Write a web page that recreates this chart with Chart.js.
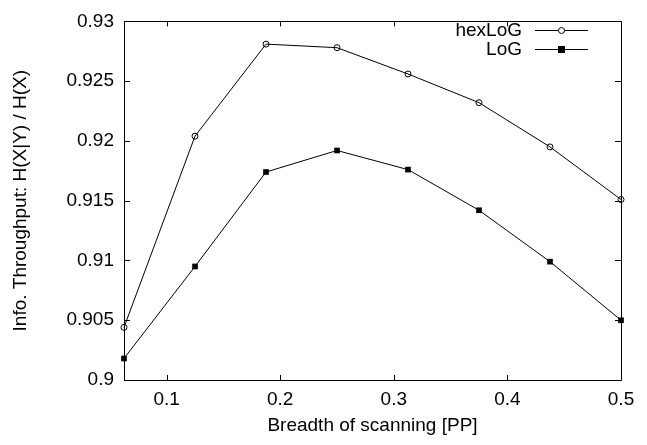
<!DOCTYPE html>
<html>
<head>
<meta charset="utf-8">
<script src="https://cdn.jsdelivr.net/npm/chart.js@4/dist/chart.umd.min.js"></script>
<style>
html,body{margin:0;padding:0;background:#fff;}
#wrap{width:647px;height:445px;position:relative;}
</style>
</head>
<body>
<div id="wrap"><canvas id="c" width="647" height="445"></canvas></div>
<script>
const xValues = [0.0625, 0.125, 0.1875, 0.25, 0.3125, 0.375, 0.4375, 0.5];
const hexLoG = [0.9044, 0.9204, 0.9281, 0.9278, 0.9256, 0.9232, 0.9195, 0.9151];
const LoG = [0.9018, 0.9095, 0.9174, 0.9192, 0.9176, 0.9142, 0.9099, 0.9050];
const xTicks = [0.1, 0.2, 0.3, 0.4, 0.5];
const yTicks = [0.9, 0.905, 0.91, 0.915, 0.92, 0.925, 0.93];
const seriesNames = ['hexLoG', 'LoG'];
const xTitle = 'Breadth of scanning [PP]';
const yTitle = 'Info. Throughput: H(X|Y) / H(X)';

const FONT = 'Liberation Sans, Arial, sans-serif';
const FS = 19;

const toPts = (ys) => xValues.map((x, i) => ({x: x, y: ys[i]}));

const frame = {
  id: 'frame',
  afterDraw(chart) {
    const {ctx, chartArea: a, scales} = chart;
    ctx.save();
    ctx.strokeStyle = '#000';
    ctx.lineWidth = 1;
    ctx.beginPath();
    ctx.rect(Math.round(a.left) + 0.5, Math.round(a.top) + 0.5, Math.round(a.right - a.left), Math.round(a.bottom - a.top));
    ctx.stroke();
    ctx.beginPath();
    xTicks.forEach(v => {
      const px = Math.round(scales.x.getPixelForValue(v)) + 0.5;
      ctx.moveTo(px, a.bottom); ctx.lineTo(px, a.bottom - 5);
      ctx.moveTo(px, a.top); ctx.lineTo(px, a.top + 5);
    });
    yTicks.forEach(v => {
      const py = Math.round(scales.y.getPixelForValue(v)) + 0.5;
      ctx.moveTo(a.left, py); ctx.lineTo(a.left + 6, py);
      ctx.moveTo(a.right, py); ctx.lineTo(a.right - 6, py);
    });
    ctx.stroke();
    ctx.font = FS + 'px ' + FONT;
    ctx.fillStyle = '#000';
    ctx.textAlign = 'right';
    ctx.textBaseline = 'middle';
    const rows = [{y: 30, ds: 0}, {y: 49, ds: 1}];
    rows.forEach(r => {
      ctx.fillText(seriesNames[r.ds], 522, r.y + 1);
      ctx.beginPath();
      ctx.moveTo(535, r.y + 0.5); ctx.lineTo(588, r.y + 0.5);
      ctx.stroke();
      const mx = 561.5, my = r.y + 0.5;
      if (r.ds === 0) {
        ctx.beginPath();
        ctx.fillStyle = '#fff';
        ctx.arc(mx, my, 3, 0, Math.PI * 2);
        ctx.fill();
        ctx.stroke();
        ctx.fillStyle = '#000';
      } else {
        ctx.fillRect(mx - 3.5, my - 3.5, 7, 7);
      }
    });
    ctx.restore();
  }
};

new Chart(document.getElementById('c'), {
  type: 'line',
  data: {
    datasets: [
      {label: seriesNames[0], data: toPts(hexLoG), borderColor: '#000', borderWidth: 1,
       pointStyle: 'circle', pointRadius: 3, pointBackgroundColor: 'rgba(255,255,255,0)', pointBorderColor: '#000', pointBorderWidth: 1, tension: 0, clip: false},
      {label: seriesNames[1], data: toPts(LoG), borderColor: '#000', borderWidth: 1,
       pointStyle: 'rect', pointRadius: 4, pointBackgroundColor: '#000', pointBorderColor: '#000', pointBorderWidth: 0, tension: 0, clip: false}
    ]
  },
  options: {
    responsive: false,
    animation: false,
    devicePixelRatio: 1,
    layout: {padding: {top: 13, right: 26, left: 0, bottom: 0}},
    plugins: {legend: {display: false}, tooltip: {enabled: false}},
    scales: {
      x: {
        type: 'linear', min: 0.0625, max: 0.5,
        afterBuildTicks: (s) => { s.ticks = xTicks.map(v => ({value: v})); },
        afterFit: (s) => { s.height = 65; },
        grid: {display: false, drawTicks: false},
        border: {display: false},
        ticks: {color: '#000', font: {family: FONT, size: FS}, padding: 8,
                callback: (v) => String(v)},
        title: {display: true, text: xTitle, color: '#000', font: {family: FONT, size: FS}, padding: {top: 0, bottom: 8}}
      },
      y: {
        type: 'linear', min: 0.9, max: 0.93,
        afterBuildTicks: (s) => { s.ticks = yTicks.map(v => ({value: v})); },
        afterFit: (s) => { s.width = 124; },
        grid: {display: false, drawTicks: false},
        border: {display: false},
        ticks: {color: '#000', font: {family: FONT, size: FS}, padding: 10,
                callback: (v) => String(parseFloat(v.toFixed(3)))},
        title: {display: true, text: yTitle, color: '#000', font: {family: FONT, size: FS}, padding: {top: 9, bottom: 0}}
      }
    }
  },
  plugins: [frame]
});
</script>
</body>
</html>
